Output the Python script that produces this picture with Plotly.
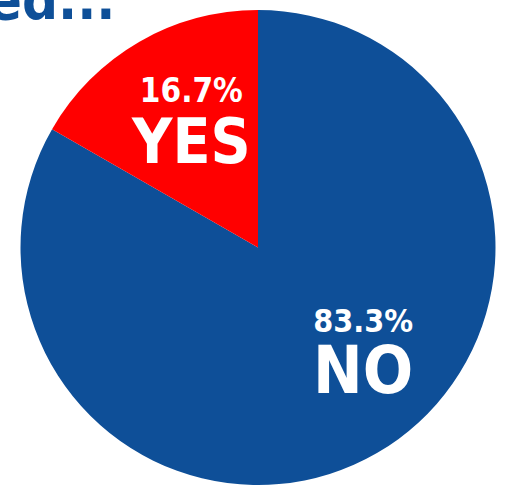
import plotly.graph_objects as go

# Data
labels = ["NO", "YES"]
values = [83.3, 16.7]
colors = ["#0E4F98", "#FF0000"]
title_text = "Vaccinated..."

W, H = 505, 485
ML, MR, MT, MB = 18, 7, 10, 0
PW, PH = W - ML - MR, H - MT - MB

def px(x):
    return (x - ML) / PW

def py(y):
    return (H - MB - y) / PH

fig = go.Figure(go.Pie(
    labels=labels,
    values=values,
    marker=dict(colors=colors, line=dict(width=0)),
    sort=False,
    direction="clockwise",
    rotation=0,
    textinfo="none",
    hoverinfo="label+percent",
    showlegend=False,
))

FONT = "DejaVu Sans Condensed, Liberation Sans Narrow, sans-serif"

ann = []
# centre of each two-line label block (pixels)
lab_pos = {"NO": (363, 355), "YES": (191, 124)}
pct_size = {"NO": 32, "YES": 33}
lab_size = {"NO": 66, "YES": 62}
for lab, v in zip(labels, values):
    txt = (f"<b><span style='font-size:{pct_size[lab]}px'>{v:.1f}%</span><br>"
           f"<span style='font-size:{lab_size[lab]}px'>{lab}</span></b>")
    ann.append(dict(x=px(lab_pos[lab][0]), y=py(lab_pos[lab][1]), xref="paper", yref="paper",
                    text=txt, showarrow=False, xanchor="center", yanchor="middle",
                    align="center",
                    font=dict(family=FONT, size=47, color="white")))

ann.append(dict(x=px(118), y=py(34), xref="paper", yref="paper",
                text=f"<b>{title_text}</b>", showarrow=False, xanchor="right", yanchor="bottom",
                font=dict(family=FONT, size=56, color="#0E4F98")))

fig.update_layout(
    width=W, height=H,
    margin=dict(l=ML, r=MR, t=MT, b=MB),
    paper_bgcolor="white",
    plot_bgcolor="white",
    annotations=ann,
)

fig.write_html("out.html")
